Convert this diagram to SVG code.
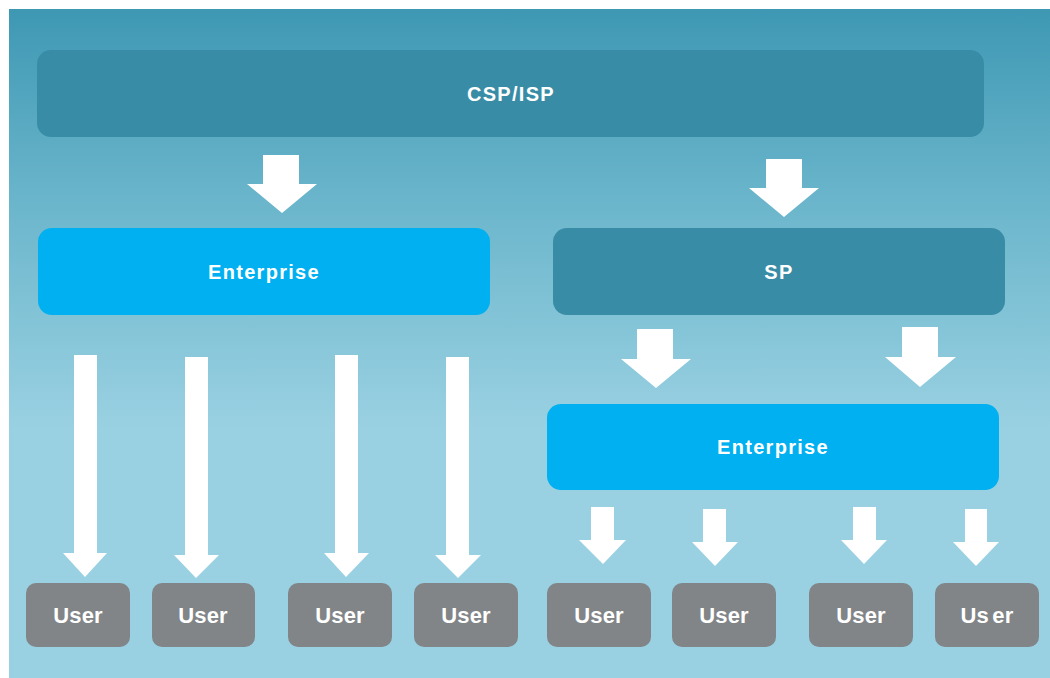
<svg xmlns="http://www.w3.org/2000/svg" width="1050" height="678" viewBox="0 0 1050 678">
  <defs>
    <linearGradient id="bg" x1="0" y1="9" x2="0" y2="430" gradientUnits="userSpaceOnUse">
      <stop offset="0" stop-color="#3E98B3"/>
      <stop offset="0.45" stop-color="#6AB5CB"/>
      <stop offset="1" stop-color="#9AD1E2"/>
    </linearGradient>
    <style>
      .provider { fill: #398CA6; }
      .enterprise { fill: #00B0F0; }
      .user { fill: #818588; }
      .label { fill: #FFFFFF; font-family: "Liberation Sans", Arial, sans-serif; font-weight: bold; font-size: 20px; letter-spacing: 1.3px; text-anchor: middle; }
      .ulabel { fill: #FFFFFF; font-family: "Liberation Sans", Arial, sans-serif; font-weight: bold; font-size: 22px; letter-spacing: 0.2px; text-anchor: middle; }
      .arrow { fill: #FFFFFF; }
    </style>
  </defs>

  <rect x="0" y="0" width="1050" height="678" fill="#FFFFFF"/>
  <rect x="9" y="9" width="1041" height="669" fill="url(#bg)"/>

  <!-- provider tier -->
  <g id="csp-isp">
    <rect class="provider" x="37" y="50" width="947" height="87" rx="14"/>
    <text class="label" x="511" y="101">CSP/ISP</text>
  </g>

  <g id="enterprise-left">
    <rect class="enterprise" x="38" y="228" width="452" height="87" rx="14"/>
    <text class="label" x="264" y="279">Enterprise</text>
  </g>

  <g id="sp">
    <rect class="provider" x="553" y="228" width="452" height="87" rx="14"/>
    <text class="label" x="779" y="279">SP</text>
  </g>

  <g id="enterprise-right">
    <rect class="enterprise" x="547" y="404" width="452" height="86" rx="14"/>
    <text class="label" x="773" y="454">Enterprise</text>
  </g>

  <!-- end users -->
  <g id="user-1"><rect class="user" x="26" y="583" width="104" height="64" rx="10"/><text class="ulabel" x="78" y="623">User</text></g>
  <g id="user-2"><rect class="user" x="152" y="583" width="103" height="64" rx="10"/><text class="ulabel" x="203" y="623">User</text></g>
  <g id="user-3"><rect class="user" x="288" y="583" width="104" height="64" rx="10"/><text class="ulabel" x="340" y="623">User</text></g>
  <g id="user-4"><rect class="user" x="414" y="583" width="104" height="64" rx="10"/><text class="ulabel" x="466" y="623">User</text></g>
  <g id="user-5"><rect class="user" x="547" y="583" width="104" height="64" rx="10"/><text class="ulabel" x="599" y="623">User</text></g>
  <g id="user-6"><rect class="user" x="672" y="583" width="104" height="64" rx="10"/><text class="ulabel" x="724" y="623">User</text></g>
  <g id="user-7"><rect class="user" x="809" y="583" width="104" height="64" rx="10"/><text class="ulabel" x="861" y="623">User</text></g>
  <g id="user-8"><rect class="user" x="935" y="583" width="104" height="64" rx="10"/><text class="ulabel" x="987" y="623" word-spacing="-3">Us er</text></g>

  <!-- block arrows between tiers -->
  <g id="connectors" class="arrow">
    <!-- CSP/ISP to Enterprise and SP -->
    <path d="M263,155 H299 V184 H317 L282,213 L247,184 H263 Z"/>
    <path d="M766,159 H802 V188 H819 L784,217 L749,188 H766 Z"/>
    <!-- SP to Enterprise -->
    <path d="M637,329 H673 V359 H691 L656,388 L621,359 H637 Z"/>
    <path d="M902,327 H938 V357 H956 L920,387 L885,357 H902 Z"/>
    <!-- Enterprise (left) to users -->
    <path d="M74,355 H97 V553 H107 L85,577 L63,553 H74 Z"/>
    <path d="M185,357 H208 V555 H219 L196,578 L174,555 H185 Z"/>
    <path d="M335,355 H358 V553 H369 L346,577 L324,553 H335 Z"/>
    <path d="M446,357 H469 V555 H481 L458,578 L435,555 H446 Z"/>
    <!-- Enterprise (right) to users -->
    <path d="M591,507 H614 V540 H626 L603,564 L579,540 H591 Z"/>
    <path d="M703,509 H726 V542 H738 L715,566 L692,542 H703 Z"/>
    <path d="M853,507 H876 V540 H887 L864,564 L841,540 H853 Z"/>
    <path d="M965,509 H987 V542 H999 L976,566 L953,542 H965 Z"/>
  </g>
</svg>
